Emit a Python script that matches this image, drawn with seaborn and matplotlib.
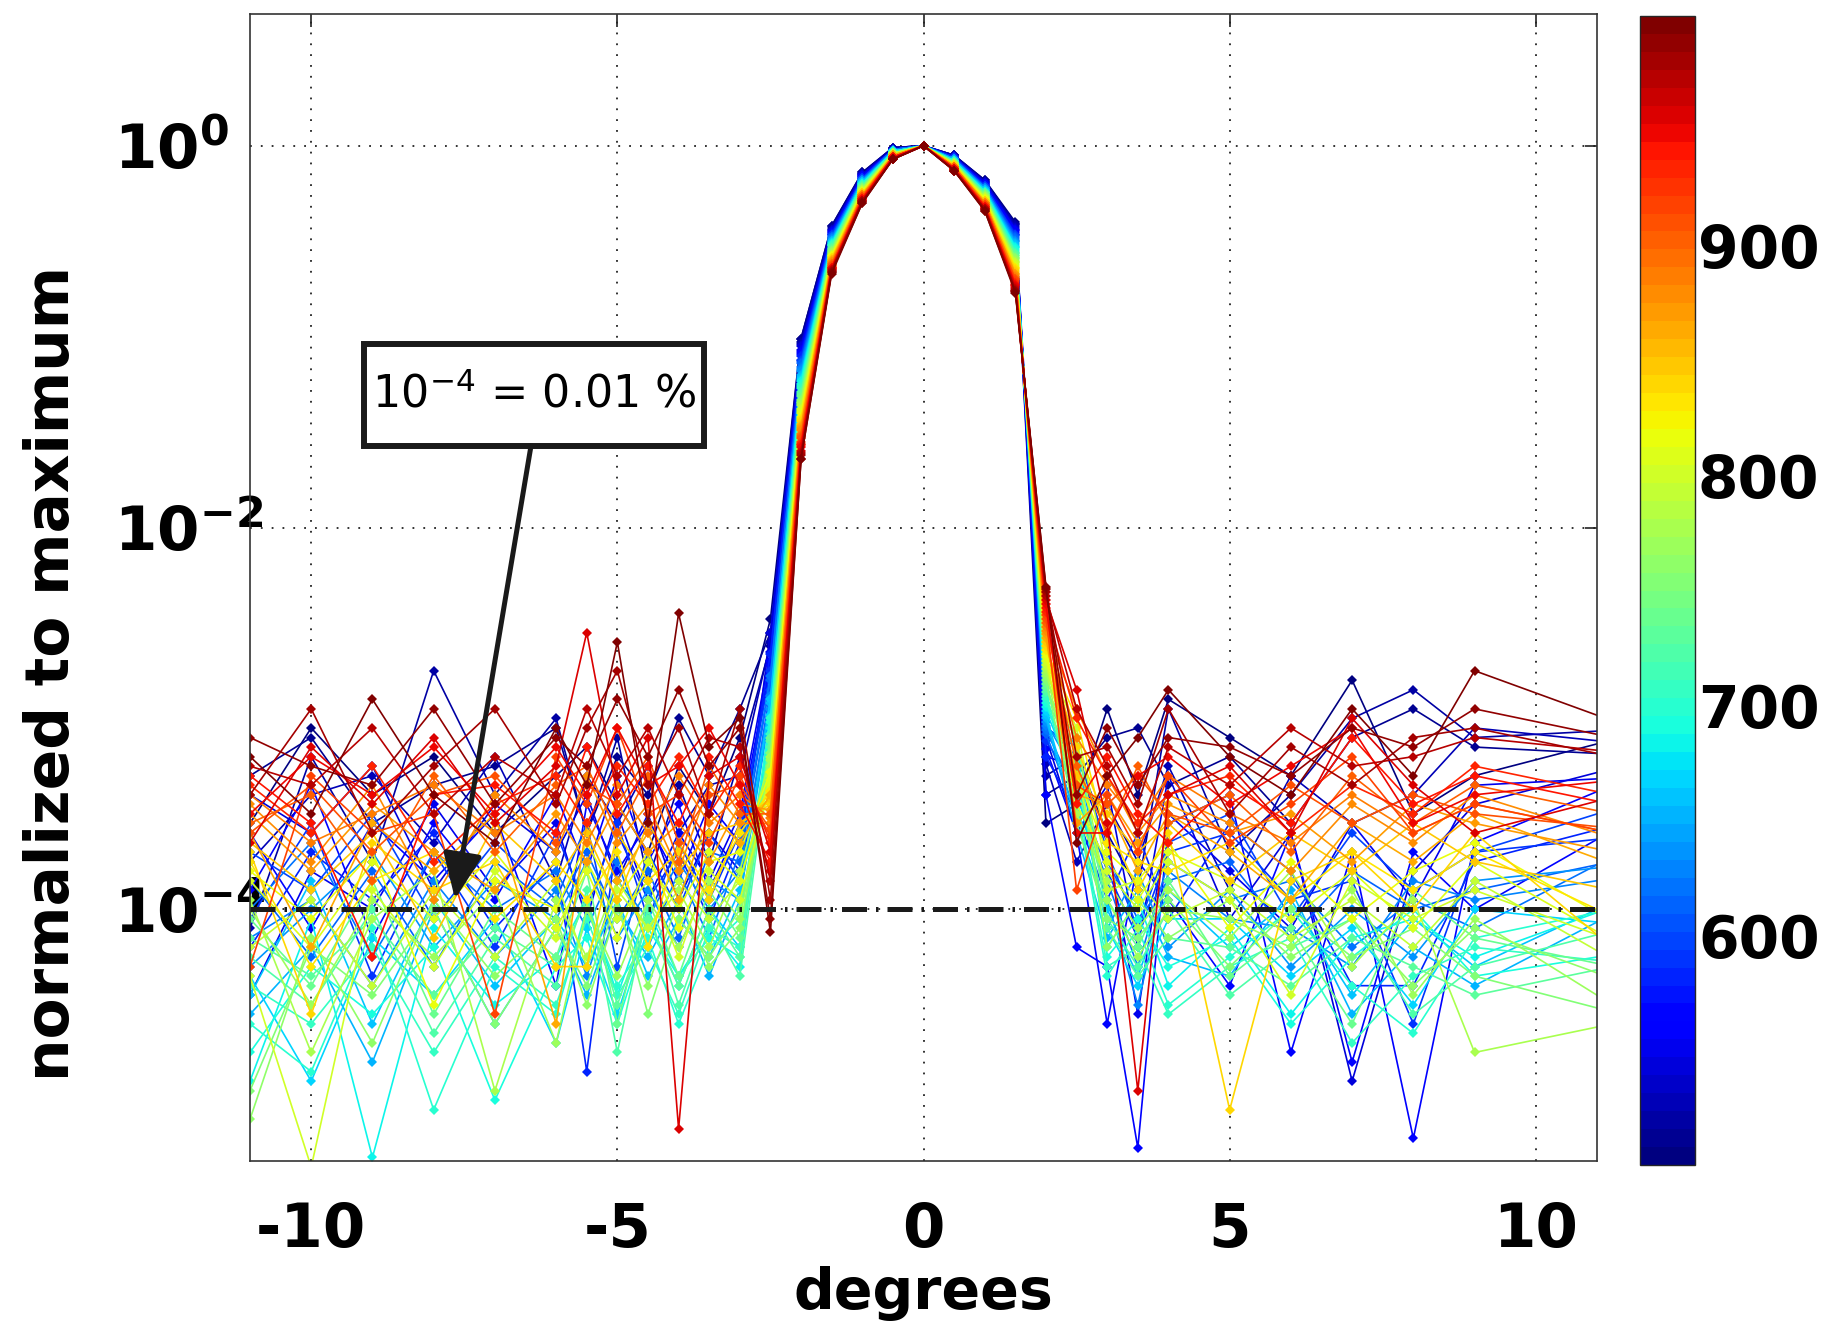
import numpy as np
import pandas as pd
import matplotlib
matplotlib.use("Agg")
import matplotlib.pyplot as plt
import seaborn as sns
from matplotlib import colors, cm
from matplotlib.patches import Rectangle
from matplotlib.ticker import NullLocator

# angle grid shared by all curves (last point lies outside the view)
x_deg = [-11, -10, -9, -8, -7, -6, -5.5, -5, -4.5, -4, -3.5, -3,
         -2.5, -2, -1.5, -1, -0.5, 0, 0.5, 1, 1.5, 2, 2.5,
         3, 3.5, 4, 5, 6, 7, 8, 9, 12]

wavelength = [505, 510, 520, 530, 540, 550, 560, 570, 580, 590, 600, 610, 620, 630,
              640, 650, 660, 670, 680, 690, 700, 710, 720, 730, 740, 750, 760, 770,
              780, 790, 800, 810, 820, 830, 840, 850, 860, 870, 880, 890, 900, 910,
              920, 930, 940, 950, 960, 970, 980, 990, 995]

# levels, stored as exponents (log10)
# each row: left side lobes | main lobe | right side lobes
lvl_505 = [-3.55, -3.05, -3.40, -3.20, -3.60, -3.30, -3.15, -3.45, -3.70, -3.25, -3.50, -3.10,
           -2.48, -1.01, -0.42, -0.14, -0.01, 0, -0.05, -0.18, -0.40, -3.55, -3.45,
           -2.95, -3.40, -2.90, -3.10, -3.30, -2.80, -3.50, -3.30, -3.05]
lvl_510 = [-3.30, -3.10, -3.55, -3.35, -3.25, -3.05, -3.60, -3.20, -3.40, -3.00, -3.30, -2.95,
           -2.55, -1.01, -0.42, -0.14, -0.01, 0, -0.05, -0.18, -0.41, -3.40, -3.30,
           -3.10, -3.05, -3.35, -3.20, -3.55, -3.10, -2.95, -3.15, -3.20]
lvl_520 = [-4.10, -3.20, -3.75, -2.75, -3.40, -3.00, -3.60, -3.10, -3.85, -3.35, -3.75, -3.20,
           -2.62, -1.03, -0.43, -0.15, -0.01, 0, -0.05, -0.19, -0.41, -3.30, -3.20,
           -3.60, -3.90, -2.95, -3.70, -3.40, -3.00, -2.85, -3.10, -3.05]
lvl_530 = [-3.75, -3.40, -3.30, -3.65, -3.20, -3.85, -3.30, -3.55, -3.25, -3.60, -3.35, -3.30,
           -2.60, -1.04, -0.44, -0.15, -0.01, 0, -0.05, -0.19, -0.42, -3.24, -3.75,
           -3.45, -3.75, -3.25, -3.90, -3.30, -3.55, -3.40, -3.05, -3.15]
lvl_540 = [-3.40, -3.60, -3.25, -3.90, -3.45, -3.70, -3.40, -3.85, -3.50, -3.95, -3.60, -3.80,
           -2.55, -1.05, -0.44, -0.15, -0.02, 0, -0.06, -0.19, -0.43, -3.10, -3.60,
           -3.35, -4.20, -3.30, -4.05, -3.60, -4.90, -3.80, -3.45, -3.20]
lvl_550 = [-4.45, -3.80, -4.00, -3.45, -3.90, -3.55, -4.05, -3.50, -3.95, -3.60, -3.85, -3.50,
           -2.65, -1.07, -0.45, -0.16, -0.02, 0, -0.06, -0.20, -0.44, -3.20, -3.25,
           -3.65, -4.55, -3.50, -3.80, -4.10, -3.55, -3.95, -3.35, -3.30]
lvl_560 = [-3.90, -3.35, -4.15, -3.55, -3.95, -3.40, -3.80, -3.30, -3.75, -3.45, -3.90, -3.55,
           -2.70, -1.08, -0.45, -0.16, -0.02, 0, -0.06, -0.20, -0.44, -3.40, -4.20,
           -4.30, -5.25, -3.55, -3.40, -4.75, -3.70, -5.20, -3.65, -3.25]
lvl_570 = [-3.60, -4.10, -3.55, -3.85, -3.50, -4.40, -3.45, -3.80, -3.55, -3.85, -3.45, -3.65,
           -2.72, -1.09, -0.46, -0.16, -0.02, 0, -0.06, -0.20, -0.45, -3.16, -3.60,
           -4.60, -3.75, -3.95, -4.40, -3.60, -4.80, -3.70, -4.00, -3.45]
lvl_580 = [-4.20, -3.70, -3.95, -3.60, -4.10, -3.75, -4.85, -3.60, -3.95, -3.70, -4.05, -3.65,
           -2.66, -1.10, -0.46, -0.17, -0.02, 0, -0.06, -0.21, -0.46, -3.20, -3.50,
           -3.95, -3.60, -4.05, -3.55, -3.80, -4.40, -4.40, -3.75, -3.50]
lvl_590 = [-4.05, -3.55, -4.35, -3.70, -4.20, -3.60, -4.00, -3.55, -4.05, -3.65, -3.95, -3.60,
           -2.75, -1.12, -0.47, -0.17, -0.02, 0, -0.06, -0.21, -0.47, -3.12, -3.35,
           -3.80, -4.15, -3.70, -3.60, -3.95, -3.85, -4.60, -3.70, -3.60]
lvl_600 = [-3.70, -3.90, -3.50, -4.05, -3.65, -3.95, -3.55, -4.30, -3.70, -4.00, -3.60, -3.85,
           -2.85, -1.13, -0.47, -0.17, -0.02, 0, -0.07, -0.21, -0.47, -3.05, -3.15,
           -3.70, -4.10, -3.65, -3.50, -4.05, -3.60, -3.90, -3.70, -3.40]
lvl_610 = [-3.85, -4.25, -3.80, -4.30, -3.75, -4.00, -3.70, -4.05, -3.80, -4.15, -3.70, -3.75,
           -2.80, -1.14, -0.48, -0.18, -0.02, 0, -0.07, -0.22, -0.48, -3.08, -3.50,
           -3.75, -4.05, -3.85, -3.75, -4.15, -3.80, -4.00, -3.90, -3.70]
lvl_620 = [-4.00, -3.65, -4.25, -3.70, -4.00, -3.80, -4.10, -3.75, -4.20, -3.80, -4.15, -3.70,
           -2.78, -1.16, -0.48, -0.18, -0.02, 0, -0.07, -0.22, -0.49, -3.06, -3.40,
           -3.85, -4.30, -3.75, -3.95, -3.85, -4.20, -3.95, -4.10, -3.60]
lvl_630 = [-4.15, -3.95, -4.40, -3.85, -4.25, -3.90, -4.35, -3.85, -4.05, -3.75, -4.00, -3.80,
           -2.88, -1.17, -0.49, -0.18, -0.03, 0, -0.07, -0.22, -0.50, -3.04, -3.20,
           -3.95, -4.50, -3.80, -4.05, -4.10, -4.30, -3.85, -3.95, -3.80]
lvl_640 = [-4.30, -4.00, -3.70, -4.20, -3.85, -4.05, -3.75, -4.15, -3.90, -4.20, -3.85, -3.95,
           -2.95, -1.18, -0.49, -0.18, -0.03, 0, -0.07, -0.22, -0.50, -3.02, -3.30,
           -4.10, -3.80, -4.20, -3.90, -4.30, -4.00, -4.25, -3.85, -3.75]
lvl_650 = [-4.55, -4.20, -4.80, -4.00, -4.60, -4.10, -4.45, -4.00, -4.25, -3.95, -4.35, -3.95,
           -2.92, -1.20, -0.50, -0.19, -0.03, 0, -0.07, -0.23, -0.51, -3.00, -3.60,
           -4.15, -3.90, -4.25, -4.35, -3.90, -4.55, -4.20, -4.40, -3.90]
lvl_660 = [-4.45, -3.85, -4.60, -3.95, -4.40, -4.05, -4.30, -3.95, -4.35, -4.05, -4.25, -3.90,
           -2.90, -1.21, -0.50, -0.19, -0.03, 0, -0.08, -0.23, -0.52, -2.98, -3.55,
           -4.00, -4.35, -3.90, -4.20, -3.95, -4.45, -4.05, -4.30, -3.85]
lvl_670 = [-4.35, -4.90, -4.15, -4.45, -4.05, -4.70, -4.10, -4.55, -4.05, -4.40, -4.00, -4.20,
           -2.98, -1.22, -0.51, -0.19, -0.03, 0, -0.08, -0.23, -0.53, -2.96, -3.35,
           -4.10, -4.40, -4.05, -4.05, -4.35, -4.10, -4.50, -4.00, -4.10]
lvl_680 = [-4.90, -4.05, -5.30, -4.10, -4.50, -4.25, -3.95, -4.45, -4.00, -4.35, -4.10, -4.30,
           -3.05, -1.23, -0.51, -0.20, -0.03, 0, -0.08, -0.24, -0.53, -2.94, -3.25,
           -4.20, -3.95, -4.40, -4.10, -4.55, -4.15, -4.05, -4.25, -3.90]
lvl_690 = [-4.75, -4.30, -4.55, -4.20, -5.00, -4.30, -4.15, -4.60, -4.10, -4.35, -4.15, -4.25,
           -3.02, -1.25, -0.52, -0.20, -0.03, 0, -0.08, -0.24, -0.54, -2.92, -3.15,
           -4.25, -4.05, -4.30, -4.15, -4.60, -4.25, -4.00, -4.35, -4.20]
lvl_700 = [-4.60, -4.85, -4.10, -5.05, -4.30, -4.55, -4.00, -4.40, -4.15, -4.60, -4.20, -4.05,
           -3.00, -1.26, -0.52, -0.20, -0.03, 0, -0.08, -0.24, -0.55, -2.90, -3.45,
           -4.35, -4.10, -4.50, -4.25, -4.00, -4.40, -4.65, -4.15, -3.95]
lvl_710 = [-4.40, -4.60, -4.20, -4.75, -4.25, -4.50, -4.05, -4.45, -4.20, -4.55, -4.10, -4.20,
           -3.08, -1.27, -0.52, -0.21, -0.04, 0, -0.08, -0.25, -0.56, -2.88, -3.40,
           -4.30, -4.20, -4.55, -4.30, -4.15, -4.70, -4.35, -4.20, -4.30]
lvl_720 = [-4.25, -4.50, -4.00, -4.65, -4.15, -4.40, -3.90, -4.75, -4.00, -4.50, -4.05, -4.35,
           -3.15, -1.29, -0.53, -0.21, -0.04, 0, -0.09, -0.25, -0.56, -2.86, -3.10,
           -4.05, -4.30, -4.00, -4.45, -4.20, -4.05, -4.55, -4.30, -4.05]
lvl_730 = [-4.15, -4.35, -4.05, -4.45, -4.10, -4.30, -3.95, -4.50, -4.05, -4.40, -4.00, -4.25,
           -3.12, -1.30, -0.54, -0.21, -0.04, 0, -0.09, -0.25, -0.57, -2.84, -3.25,
           -4.10, -4.35, -4.15, -4.20, -4.40, -4.15, -4.30, -4.45, -4.25]
lvl_740 = [-4.05, -4.40, -3.85, -4.55, -4.00, -4.25, -3.80, -4.60, -3.95, -4.35, -3.90, -4.15,
           -3.10, -1.31, -0.54, -0.22, -0.04, 0, -0.09, -0.26, -0.58, -2.82, -3.35,
           -3.95, -4.20, -3.85, -4.35, -4.10, -4.60, -3.90, -4.15, -4.35]
lvl_750 = [-4.95, -4.20, -4.45, -4.00, -4.60, -4.10, -4.40, -3.95, -4.55, -4.05, -4.25, -4.00,
           -3.18, -1.33, -0.55, -0.22, -0.04, 0, -0.09, -0.26, -0.59, -2.80, -3.55,
           -4.05, -4.15, -3.95, -4.30, -4.00, -4.25, -4.10, -4.35, -4.60]
lvl_760 = [-5.10, -4.15, -4.70, -3.95, -4.35, -4.05, -4.50, -4.00, -4.40, -3.95, -4.30, -4.10,
           -3.25, -1.34, -0.55, -0.22, -0.04, 0, -0.09, -0.26, -0.59, -2.78, -3.20,
           -4.20, -3.95, -4.15, -3.95, -4.25, -4.05, -4.40, -4.10, -4.45]
lvl_770 = [-4.00, -4.50, -3.95, -4.25, -3.90, -4.70, -4.00, -4.35, -3.95, -4.20, -3.85, -4.05,
           -3.22, -1.35, -0.56, -0.23, -0.04, 0, -0.09, -0.27, -0.60, -2.76, -3.10,
           -3.95, -4.25, -4.00, -4.05, -4.20, -3.90, -4.45, -4.05, -4.65]
lvl_780 = [-3.95, -4.75, -4.05, -3.80, -4.95, -3.95, -4.25, -3.85, -4.10, -3.90, -4.20, -3.80,
           -3.20, -1.36, -0.56, -0.23, -0.04, 0, -0.09, -0.27, -0.61, -2.74, -3.50,
           -3.85, -4.10, -3.90, -4.15, -3.80, -4.30, -3.95, -4.75, -4.55]
lvl_790 = [-4.20, -3.95, -4.40, -3.90, -4.25, -3.85, -4.30, -3.90, -4.10, -3.85, -4.05, -3.85,
           -3.30, -1.38, -0.57, -0.23, -0.04, 0, -0.10, -0.27, -0.61, -2.72, -3.30,
           -3.90, -3.85, -4.05, -3.90, -4.15, -3.95, -4.20, -3.85, -4.40]
lvl_800 = [-4.35, -5.35, -3.90, -4.30, -3.80, -4.15, -3.75, -4.05, -3.85, -4.25, -3.80, -3.95,
           -3.35, -1.39, -0.57, -0.24, -0.05, 0, -0.10, -0.28, -0.62, -2.70, -3.05,
           -3.80, -4.00, -3.75, -3.95, -4.45, -3.85, -4.05, -3.90, -4.25]
lvl_810 = [-3.85, -4.20, -3.75, -4.05, -3.70, -4.10, -3.80, -4.15, -3.75, -4.00, -3.70, -3.85,
           -3.32, -1.40, -0.58, -0.24, -0.05, 0, -0.10, -0.28, -0.63, -2.68, -3.45,
           -3.75, -3.95, -3.70, -3.85, -4.05, -3.80, -4.10, -3.75, -4.30]
lvl_820 = [-3.80, -4.05, -3.70, -4.50, -3.85, -4.00, -3.65, -3.95, -3.70, -4.10, -3.75, -3.70,
           -3.28, -1.42, -0.58, -0.24, -0.05, 0, -0.10, -0.28, -0.64, -2.66, -3.30,
           -3.70, -3.85, -3.65, -4.10, -3.75, -4.05, -3.80, -3.65, -4.20]
lvl_830 = [-3.75, -4.30, -3.85, -3.70, -4.05, -3.75, -3.95, -3.70, -4.20, -3.65, -3.90, -3.60,
           -3.38, -1.43, -0.59, -0.25, -0.05, 0, -0.10, -0.29, -0.64, -2.64, -3.00,
           -3.65, -3.75, -3.80, -3.65, -3.95, -3.70, -3.90, -3.70, -4.15]
lvl_840 = [-3.70, -4.55, -3.65, -3.90, -3.75, -4.30, -4.30, -3.60, -3.85, -3.70, -3.95, -3.55,
           -3.45, -1.44, -0.59, -0.25, -0.05, 0, -0.10, -0.29, -0.65, -2.62, -3.15,
           -3.55, -3.90, -3.60, -5.05, -3.85, -3.70, -4.00, -3.60, -4.40]
lvl_850 = [-3.65, -3.90, -3.60, -4.15, -3.55, -3.85, -3.60, -3.95, -3.55, -3.80, -3.60, -3.55,
           -3.42, -1.46, -0.60, -0.25, -0.05, 0, -0.11, -0.29, -0.66, -2.60, -3.30,
           -3.50, -3.70, -3.55, -3.85, -3.60, -3.80, -3.55, -3.75, -3.95]
lvl_860 = [-3.60, -4.20, -3.55, -3.80, -3.50, -4.60, -3.55, -3.85, -3.60, -3.95, -3.50, -3.65,
           -3.40, -1.47, -0.60, -0.26, -0.05, 0, -0.11, -0.30, -0.67, -2.58, -3.40,
           -3.45, -3.80, -3.50, -3.70, -3.95, -3.55, -3.75, -3.50, -3.85]
lvl_870 = [-3.50, -3.80, -3.45, -3.70, -3.90, -3.50, -3.75, -3.45, -3.70, -3.55, -3.75, -3.45,
           -3.48, -1.48, -0.61, -0.26, -0.05, 0, -0.11, -0.30, -0.67, -2.56, -3.55,
           -3.40, -3.65, -3.45, -3.60, -3.50, -3.75, -3.45, -3.55, -3.75]
lvl_880 = [-3.45, -3.75, -3.35, -3.95, -3.40, -3.70, -3.30, -3.65, -3.45, -3.80, -3.35, -3.55,
           -3.55, -1.49, -0.61, -0.26, -0.06, 0, -0.11, -0.30, -0.68, -2.54, -2.95,
           -3.30, -3.60, -3.40, -3.55, -3.80, -3.45, -3.65, -3.40, -3.70]
lvl_890 = [-3.40, -3.65, -3.50, -3.35, -3.60, -3.40, -3.65, -3.35, -3.60, -3.30, -3.55, -3.40,
           -3.52, -1.51, -0.62, -0.26, -0.06, 0, -0.11, -0.30, -0.69, -2.52, -3.10,
           -3.35, -3.55, -3.30, -3.50, -3.65, -3.40, -3.60, -3.45, -3.65]
lvl_900 = [-3.55, -3.40, -3.85, -3.30, -3.70, -3.35, -3.25, -3.60, -3.30, -3.75, -3.25, -3.50,
           -3.50, -1.52, -0.62, -0.27, -0.06, 0, -0.11, -0.31, -0.70, -2.50, -3.25,
           -3.60, -3.25, -3.55, -3.40, -3.70, -3.30, -3.55, -3.35, -3.55]
lvl_910 = [-3.60, -3.35, -3.70, -3.40, -3.30, -3.65, -3.35, -3.45, -3.20, -3.65, -3.40, -3.35,
           -3.58, -1.53, -0.63, -0.27, -0.06, 0, -0.12, -0.31, -0.70, -2.48, -3.35,
           -3.45, -3.30, -3.50, -3.60, -3.35, -3.55, -3.40, -3.50, -3.60]
lvl_920 = [-4.30, -3.30, -3.60, -3.50, -4.55, -3.20, -3.45, -3.05, -3.50, -3.40, -3.65, -3.30,
           -3.62, -1.55, -0.63, -0.27, -0.06, 0, -0.12, -0.31, -0.71, -2.46, -3.90,
           -3.40, -3.70, -3.30, -3.65, -3.45, -3.20, -3.60, -3.45, -3.65]
lvl_930 = [-3.35, -3.60, -3.25, -3.75, -3.45, -3.30, -3.55, -3.25, -3.45, -3.20, -3.50, -3.25,
           -3.65, -1.56, -0.64, -0.28, -0.06, 0, -0.12, -0.32, -0.72, -2.44, -3.00,
           -3.30, -3.55, -3.40, -3.30, -3.60, -3.35, -3.50, -3.25, -3.45]
lvl_940 = [-3.30, -3.55, -4.25, -3.40, -3.35, -3.60, -3.15, -3.50, -3.25, -3.55, -3.20, -3.45,
           -3.75, -1.57, -0.64, -0.28, -0.06, 0, -0.12, -0.32, -0.73, -2.42, -3.45,
           -3.20, -3.50, -3.65, -3.35, -3.55, -3.10, -3.45, -3.30, -3.50]
lvl_950 = [-3.50, -3.20, -3.40, -3.15, -3.50, -3.15, -3.40, -3.05, -3.35, -3.25, -3.05, -3.35,
           -3.80, -1.58, -0.64, -0.28, -0.06, 0, -0.12, -0.32, -0.73, -2.40, -3.60,
           -3.60, -3.30, -3.20, -3.45, -3.25, -3.05, -3.55, -3.40, -3.30]
lvl_960 = [-3.65, -3.15, -3.45, -3.10, -3.55, -3.25, -2.55, -3.40, -3.10, -5.15, -3.30, -3.20,
           -3.70, -1.60, -0.65, -0.29, -0.07, 0, -0.12, -0.33, -0.74, -2.38, -2.85,
           -3.55, -4.95, -3.40, -3.25, -3.60, -3.00, -3.35, -3.60, -3.35]
lvl_970 = [-3.25, -3.35, -3.05, -3.50, -3.20, -3.40, -2.95, -3.30, -3.05, -3.40, -3.10, -3.15,
           -3.85, -1.61, -0.65, -0.29, -0.07, 0, -0.13, -0.33, -0.75, -2.36, -2.95,
           -3.25, -3.60, -3.15, -3.35, -3.05, -3.25, -3.20, -3.10, -3.20]
lvl_980 = [-3.40, -2.95, -3.60, -3.25, -2.95, -3.45, -3.05, -2.75, -3.35, -3.05, -3.50, -2.95,
           -3.95, -1.62, -0.66, -0.29, -0.07, 0, -0.13, -0.33, -0.76, -2.34, -3.20,
           -3.15, -3.45, -2.95, -3.50, -3.15, -3.35, -3.10, -3.05, -3.25]
lvl_990 = [-3.10, -3.25, -3.35, -2.95, -3.45, -3.10, -3.25, -2.90, -3.20, -2.85, -3.25, -3.05,
           -4.05, -1.64, -0.66, -0.30, -0.07, 0, -0.13, -0.34, -0.76, -2.32, -3.40,
           -3.05, -3.35, -3.10, -3.15, -3.30, -3.05, -3.15, -2.95, -3.15]
lvl_995 = [-3.20, -3.50, -2.90, -3.40, -3.65, -3.05, -3.35, -2.60, -3.55, -2.45, -3.15, -3.00,
           -4.12, -1.64, -0.67, -0.30, -0.07, 0, -0.13, -0.34, -0.77, -2.31, -3.65,
           -3.30, -3.10, -2.85, -3.20, -3.40, -2.95, -3.30, -2.75, -3.10]

curves = [lvl_505, lvl_510, lvl_520, lvl_530, lvl_540, lvl_550, lvl_560, lvl_570,
          lvl_580, lvl_590, lvl_600, lvl_610, lvl_620, lvl_630, lvl_640, lvl_650,
          lvl_660, lvl_670, lvl_680, lvl_690, lvl_700, lvl_710, lvl_720, lvl_730,
          lvl_740, lvl_750, lvl_760, lvl_770, lvl_780, lvl_790, lvl_800, lvl_810,
          lvl_820, lvl_830, lvl_840, lvl_850, lvl_860, lvl_870, lvl_880, lvl_890,
          lvl_900, lvl_910, lvl_920, lvl_930, lvl_940, lvl_950, lvl_960, lvl_970,
          lvl_980, lvl_990, lvl_995]

rows = []
for w, vals in zip(wavelength, curves):
    for xd, v in zip(x_deg, vals):
        rows.append((w, xd, 10.0 ** v))
df = pd.DataFrame(rows, columns=["wavelength", "deg", "level"])

sns.set_theme(style="white")
plt.rcParams["font.family"] = ["DejaVu Sans"]
plt.rcParams["font.weight"] = "bold"
plt.rcParams["mathtext.default"] = "bf"
plt.rcParams["axes.unicode_minus"] = False
for key in ["text.color", "axes.labelcolor", "xtick.color", "ytick.color"]:
    plt.rcParams[key] = "black"

jet = plt.get_cmap("jet", 64)
norm = colors.Normalize(500, 1000)
pal = {w: jet(norm(w)) for w in wavelength}

fig = plt.figure(figsize=(18.3, 13.35), dpi=100)
ax = fig.add_axes([0.1366, 0.1303, 0.7361, 0.8592])
cax = fig.add_axes([0.8962, 0.1273, 0.0301, 0.8607])

ax.set_yscale("log")
sns.lineplot(data=df, x="deg", y="level", hue="wavelength", palette=pal,
             estimator=None, sort=False, legend=False, ax=ax,
             linewidth=1.2, marker="D", markersize=5.5, markeredgewidth=0)

ax.set_xlim(-11, 11)
ax.set_ylim(4.8e-6, 4.9)
ax.set_xticks([-10, -5, 0, 5, 10])
ax.set_yticks([1e-4, 1e-2, 1])
ax.yaxis.set_minor_locator(NullLocator())
ax.set_yticklabels([r"$10^{-4}$", r"$10^{-2}$", r"$10^{0}$"])
ax.grid(True, linestyle=(0, (1, 5)), linewidth=1.3, color="#222222")
ax.set_axisbelow(True)

ax.tick_params(direction="in", length=9, width=1.2, top=True, right=True,
               labelsize=44, color="#222222")
ax.tick_params(axis="x", pad=29)
ax.tick_params(axis="y", pad=98)
for lab in ax.get_yticklabels():
    lab.set_horizontalalignment("left")
for s in ax.spines.values():
    s.set_color("#333333")
    s.set_linewidth(1.2)

ax.set_xlabel("degrees", fontsize=41, fontweight="bold", labelpad=4)
ax.set_ylabel("normalized to maximum", fontsize=43, fontweight="bold")
ax.yaxis.set_label_coords(-0.125, 0.425)

# 0.01 % reference level
ax.axhline(1e-4, color="k", linewidth=3.6, linestyle=(0, (5, 1.8, 0.5, 1.8)), zorder=5)

ax.add_patch(Rectangle((0.0846, 0.6234), 0.2524, 0.0889, transform=ax.transAxes,
                       facecolor="white", edgecolor="k", linewidth=4.3, zorder=6))
ax.text(0.2109, 0.668, r"10$^{\mathregular{-4}}$ = 0.01 %", transform=ax.transAxes,
        ha="center", va="center", fontsize=32, fontweight="normal", zorder=7)
ax.annotate("", xy=(0.1522, 0.2284), xytext=(0.2086, 0.6234), xycoords="axes fraction",
            arrowprops=dict(arrowstyle="-|>,head_length=0.7,head_width=0.3",
                            mutation_scale=40, lw=3.6, color="k",
                            shrinkA=0, shrinkB=0), zorder=6)

cb = fig.colorbar(cm.ScalarMappable(norm=norm, cmap=jet), cax=cax, ticks=[600, 700, 800, 900])
cb.ax.tick_params(direction="in", length=9, width=1.2, left=True, right=True,
                  labelsize=42, pad=2, color="#222222")
cb.outline.set_linewidth(1.0)

fig.savefig("out.png", dpi=100)
